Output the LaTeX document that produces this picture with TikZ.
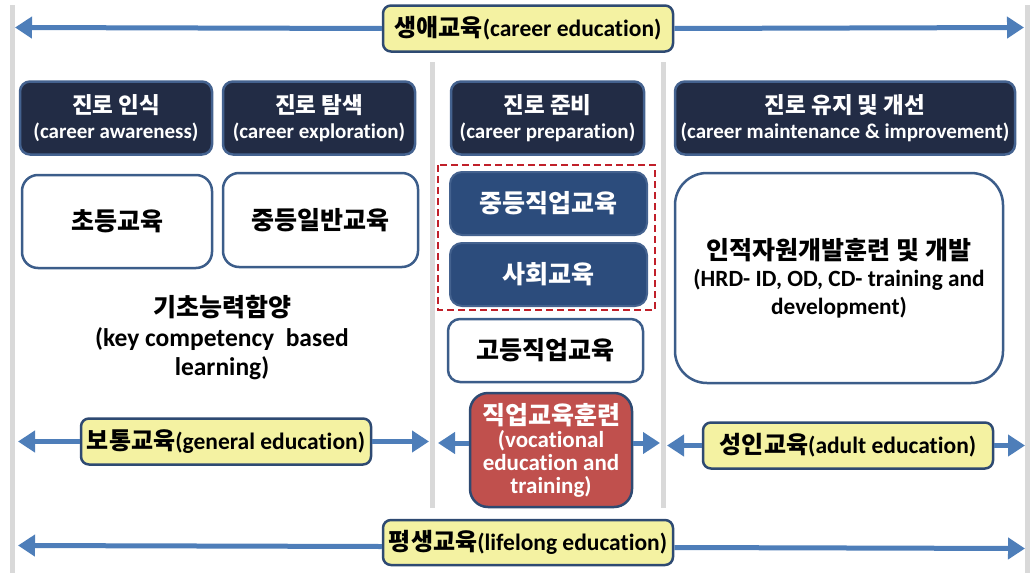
\documentclass[tikz,border=0pt]{standalone}
\usepackage{fontspec}
\setmainfont{Carlito}[Ligatures=NoCommon]
\newfontfamily\kr{Noto Sans CJK KR}
\usetikzlibrary{arrows.meta}
\definecolor{navy}{HTML}{222C45}
\definecolor{navyedge}{HTML}{44628F}
\definecolor{boxedge}{HTML}{3C5D8A}
\definecolor{midblue}{HTML}{2C4C7C}
\definecolor{ylw}{HTML}{F4F2A2}
\definecolor{ylwedge}{HTML}{2E4A72}
\definecolor{redfill}{HTML}{C0504D}
\definecolor{reddash}{HTML}{C0202A}
\definecolor{arrowblue}{HTML}{4E7EB9}
\definecolor{grayline}{HTML}{D9D9D9}
\newcommand{\kor}[1]{{\kr #1}}
\begin{document}
\begin{tikzpicture}[x=1pt,y=-1pt,
  hdr/.style={draw=navyedge, fill=navy, line width=2.5pt, rounded corners=10pt, text=white, align=center, inner sep=0pt, font=\fontsize{21}{25}\selectfont\bfseries},
  wbox/.style={draw=boxedge, fill=white, line width=2.5pt, rounded corners=16pt, align=center, inner sep=0pt, text=black, font=\fontsize{25}{28}\selectfont\bfseries},
  bbox/.style={draw=navyedge, fill=midblue, line width=2pt, rounded corners=12pt, align=center, inner sep=0pt, text=white, font=\fontsize{25}{28}\selectfont\bfseries},
  ylab/.style={draw=ylwedge, fill=ylw, line width=2.5pt, rounded corners=8pt, align=center, inner sep=0pt, text=black, minimum width=290pt, minimum height=46pt, font=\fontsize{23.5}{26}\selectfont\bfseries},
  rbox/.style={draw=ylwedge, fill=redfill, line width=2.5pt, rounded corners=18pt, align=center, inner sep=0pt, text=white, font=\fontsize{23}{23}\selectfont\bfseries},
  arr/.style={draw=arrowblue, line width=5pt, -{Triangle[length=17pt,width=21pt]}},
  gline/.style={draw=grayline, line width=5pt},
  dashbox/.style={draw=reddash, line width=2.5pt, dash pattern=on 7pt off 4pt}
]
\useasboundingbox (0,0) rectangle (1030,573);

% gray vertical guide lines
\draw[gline] (12,5) -- (12,573);
\draw[gline] (1027,5) -- (1027,573);
\draw[gline] (432,62) -- (432,508);
\draw[gline] (663,62) -- (663,508);

% header boxes
\node[hdr, minimum width=192pt, minimum height=73pt] (h1) at (116,118) {\kor{\fontsize{22.5}{25}\selectfont 진로 인식}\\(career awareness)};
\node[hdr, minimum width=192pt, minimum height=73pt] (h2) at (319,118) {\kor{\fontsize{22.5}{25}\selectfont 진로 탐색}\\(career exploration)};
\node[hdr, minimum width=193pt, minimum height=73pt] (h3) at (547.5,118) {\kor{\fontsize{22.5}{25}\selectfont 진로 준비}\\(career preparation)};
\node[hdr, minimum width=340pt, minimum height=73pt] (h4) at (845,118) {\kor{\fontsize{22.5}{25}\selectfont 진로 유지 및 개선}\\(career maintenance \& improvement)};

% white boxes
\node[wbox, minimum width=190pt, minimum height=93pt] (b1) at (117,221.5) {\kor{초등교육}};
\node[wbox, minimum width=195pt, minimum height=94pt] (b2) at (320.5,220) {\kor{중등일반교육}};
\node[align=center, inner sep=0pt, font=\fontsize{25.5}{29.5}\selectfont\bfseries] (kc) at (222,338) {\kor{\fontsize{25}{29.5}\selectfont 기초능력함양}\\(key competency~~based\\learning)};

% dashed group
\draw[dashbox] (438,165) rectangle (655,310);
\node[bbox, minimum width=197pt, minimum height=63pt] (v1) at (548.5,203.5) {\kor{중등직업교육}};
\node[bbox, minimum width=197pt, minimum height=63pt] (v2) at (548.5,274.5) {\kor{사회교육}};
\node[wbox, rounded corners=12pt, minimum width=195pt, minimum height=63pt] (v3) at (545.5,350.5) {\kor{고등직업교육}};

% HRD box
\node[wbox, rounded corners=32pt, minimum width=328pt, minimum height=210pt, font=\fontsize{23.3}{27.5}\selectfont\bfseries] (hrd) at (839,278) {\kor{\fontsize{25}{27.5}\selectfont 인적자원개발훈련 및 개발}\\(HRD- ID, OD, CD- training and\\development)};

% vocational red box
\node[rbox, minimum width=162pt, minimum height=114pt] (voc) at (551,450) {\kor{\fontsize{25}{23}\selectfont 직업교육훈련}\\(vocational\\education and\\training)};

% yellow labels
\node[ylab] (career) at (528,28.5) {\kor{\fontsize{24}{26}\selectfont 생애교육}(career education)};
\node[ylab] (general) at (226,441.5) {\kor{\fontsize{24}{26}\selectfont 보통교육}(general education)};
\node[ylab] (adult) at (848,445.5) {\kor{\fontsize{24}{26}\selectfont 성인교육}(adult education)};
\node[ylab, minimum height=45pt] (life) at (528,542.5) {\kor{\fontsize{24}{26}\selectfont 평생교육}(lifelong education)};

% arrow end points
\coordinate (cL) at (15,27.5);
\coordinate (cR) at (1024,27.5);
\coordinate (gL) at (18,441.5);
\coordinate (gR) at (429,441.5);
\coordinate (vL) at (438,443);
\coordinate (vR) at (660,443);
\coordinate (aL) at (667,445.5);
\coordinate (aR) at (1025,445.5);
\coordinate (lL) at (18,545.5);
\coordinate (lR) at (1025,548.5);

% arrows
\draw[arr] (career.west) -- (cL);
\draw[arr] (career.east) -- (cR);
\draw[arr] (general.west) -- (gL);
\draw[arr] (general.east) -- (gR);
\draw[arr] (voc.west |- vL) -- (vL);
\draw[arr] (voc.east |- vR) -- (vR);
\draw[arr] (adult.west) -- (aL);
\draw[arr] (adult.east) -- (aR);
\draw[arr] ([yshift=-4pt]life.west) -- (lL);
\draw[arr] ([yshift=-5pt]life.east) -- (lR);
\end{tikzpicture}
\end{document}
